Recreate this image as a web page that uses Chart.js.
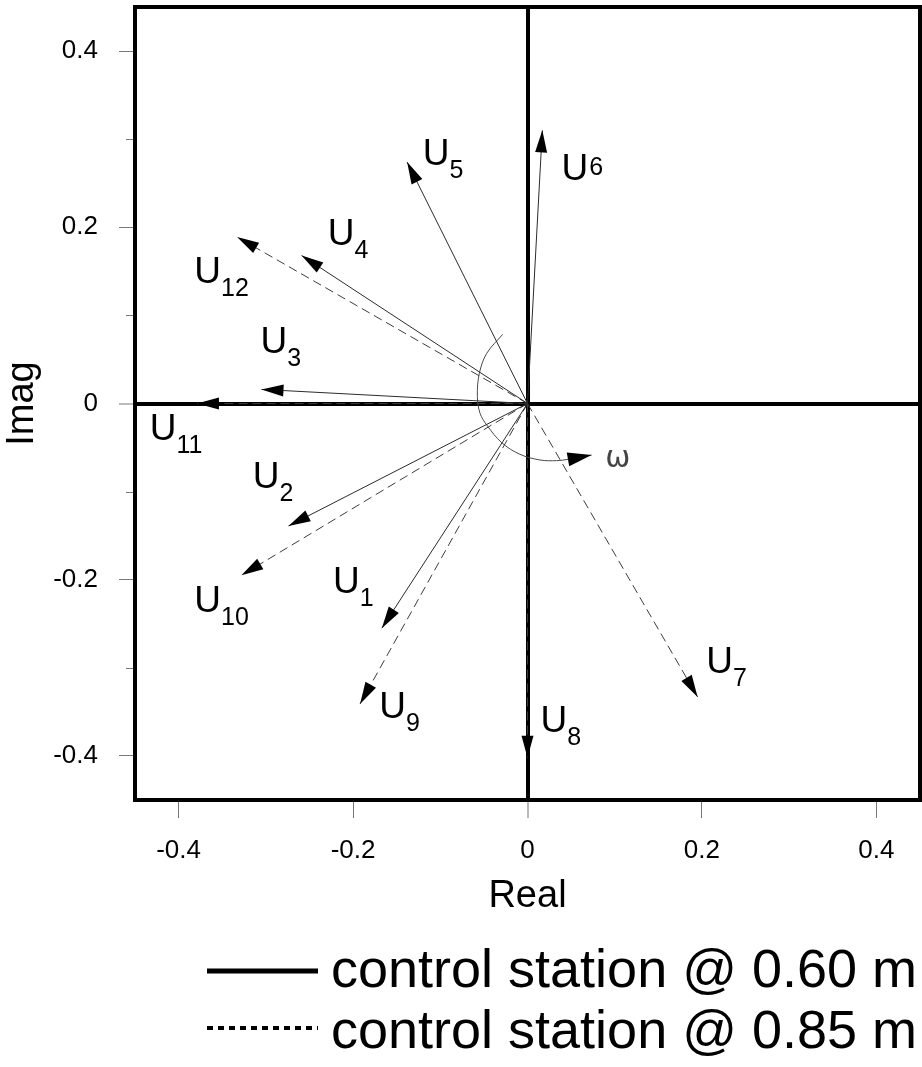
<!DOCTYPE html>
<html>
<head>
<meta charset="utf-8">
<style>
html,body{margin:0;padding:0;background:#fff;}
#wrap{width:922px;height:1067px;position:relative;overflow:hidden;}
canvas{display:block;}
</style>
<script src="https://cdn.jsdelivr.net/npm/chart.js@4.4.1/dist/chart.umd.min.js"></script>
</head>
<body>
<div id="wrap"><canvas id="c" width="922" height="1067"></canvas></div>
<script>
// ---------- data ----------
const vectorNames = ['U1','U2','U3','U4','U5','U6','U7','U8','U9','U10','U11','U12'];
const realParts   = [-0.167,-0.274,-0.305,-0.259,-0.138, 0.017, 0.195, 0.000,-0.192,-0.328,-0.379,-0.333];
const imagParts   = [-0.255,-0.139, 0.016, 0.168, 0.274, 0.310,-0.333,-0.402,-0.341,-0.195, 0.000, 0.189];
const stationDepth = [0.60,0.60,0.60,0.60,0.60,0.60,0.85,0.85,0.85,0.85,0.85,0.85];
const seriesNames = ['control station @ 0.60 m','control station @ 0.85 m'];
const seriesDepths = [0.60, 0.85];
const xTickValues = [-0.4,-0.2,0,0.2,0.4];
const yTickValues = [-0.4,-0.2,0,0.2,0.4];
const yMinorTickValues = [-0.3,-0.1,0.1,0.3];
const axisMin = -0.45, axisMax = 0.45;
// label anchors (data space, text start / baseline)
const labelX = [-0.223,-0.315,-0.306,-0.229,-0.120, 0.039, 0.205, 0.015,-0.170,-0.382,-0.433,-0.382];
const labelY = [-0.215,-0.096, 0.057, 0.180, 0.271, 0.254,-0.306,-0.373,-0.357,-0.237,-0.041, 0.137];
// omega rotation arc (data space)
const omegaArcX = [-0.0284,-0.0467,-0.0552,-0.0575,-0.0544,-0.0467,-0.0295,-0.0086, 0.0143, 0.0334, 0.0467, 0.0735];
const omegaArcY = [ 0.0785, 0.0570, 0.0343, 0.0077,-0.0111,-0.0244,-0.0445,-0.0577,-0.0641,-0.0649,-0.0633,-0.0585];
const omegaLabel = 'ω';
const omegaLabelPos = {x:0.089, y:-0.072};
const xTitle = 'Real', yTitle = 'Imag';

// ---------- chart ----------
const FONT = '"Liberation Sans", Arial, Helvetica, sans-serif';
const isZero = v => Math.abs(v) < 1e-9;

const datasets = vectorNames.map((n,i)=>({
  label:n,
  data:[{x:0,y:0},{x:realParts[i],y:imagParts[i]}],
  showLine:true,
  borderColor: stationDepth[i]===0.60 ? '#2b2b2b' : '#3c3c3c',
  borderWidth:1,
  borderDash: stationDepth[i]===0.60 ? [] : [9,5],
  pointRadius:0, pointHoverRadius:0,
  arrowLen: 22, arrowHalf: 6
}));
datasets.push({
  label:'omega',
  data: omegaArcX.map((x,i)=>({x, y:omegaArcY[i]})),
  showLine:true, borderColor:'#4a4a4a', borderWidth:1, tension:0.35,
  pointRadius:0, pointHoverRadius:0,
  arrowLen: 24, arrowHalf: 7
});

function arrowHead(ctx,x0,y0,x1,y1,len,hw){
  const a=Math.atan2(y1-y0,x1-x0), c=Math.cos(a), s=Math.sin(a);
  ctx.beginPath();
  ctx.moveTo(x1,y1);
  ctx.lineTo(x1-len*c+hw*s, y1-len*s-hw*c);
  ctx.lineTo(x1-len*c-hw*s, y1-len*s+hw*c);
  ctx.closePath();
  ctx.fill();
}

const decorPlugin = {
  id:'decor',
  afterDatasetsDraw(chart){
    const {ctx, chartArea:ca, scales:{x,y}} = chart;
    ctx.save();
    // arrowheads
    ctx.fillStyle='#000';
    chart.data.datasets.forEach((ds,i)=>{
      const pts = chart.getDatasetMeta(i).data;
      const n = pts.length;
      if(n<2) return;
      arrowHead(ctx, pts[n-2].x, pts[n-2].y, pts[n-1].x, pts[n-1].y, ds.arrowLen, ds.arrowHalf);
    });
    // plot frame
    ctx.strokeStyle='#000'; ctx.lineWidth=4;
    ctx.strokeRect(ca.left, ca.top, ca.right-ca.left, ca.bottom-ca.top);
    // minor y ticks
    ctx.strokeStyle='#777'; ctx.lineWidth=1;
    yMinorTickValues.forEach(v=>{
      const py=Math.round(y.getPixelForValue(v))+0.5;
      ctx.beginPath(); ctx.moveTo(ca.left-9,py); ctx.lineTo(ca.left-2,py); ctx.stroke();
    });
    // vector labels
    ctx.fillStyle='#000'; ctx.textBaseline='alphabetic'; ctx.textAlign='left';
    vectorNames.forEach((n,i)=>{
      const px=x.getPixelForValue(labelX[i]), py=y.getPixelForValue(labelY[i]);
      const main=n.charAt(0), sub=n.slice(1);
      ctx.font='37px '+FONT;
      ctx.fillText(main,px,py);
      const w=ctx.measureText(main).width;
      ctx.font='25px '+FONT;
      if(n==='U6'){ ctx.fillText(sub,px+w+1,py-5); }
      else { ctx.fillText(sub,px+w,py+13); }
    });
    // omega label
    ctx.font='30px "DejaVu Sans", '+FONT;
    ctx.fillStyle='#444';
    ctx.fillText(omegaLabel, x.getPixelForValue(omegaLabelPos.x), y.getPixelForValue(omegaLabelPos.y));
    ctx.restore();
  },
  afterDraw(chart){
    const {ctx} = chart;
    ctx.save();
    const rows=[{ly:971, ty:987},{ly:1028, ty:1048}];
    seriesNames.forEach((name,i)=>{
      const r=rows[i];
      ctx.strokeStyle='#000';
      if(seriesDepths[i]===0.60){ ctx.lineWidth=5; ctx.setLineDash([]); }
      else { ctx.lineWidth=4; ctx.setLineDash([6,5]); }
      ctx.beginPath(); ctx.moveTo(207,r.ly); ctx.lineTo(318,r.ly); ctx.stroke();
      ctx.setLineDash([]);
      ctx.fillStyle='#000'; ctx.font='54px '+FONT; ctx.textBaseline='alphabetic'; ctx.textAlign='left';
      ctx.fillText(name, 331, r.ty);
    });
    ctx.restore();
  }
};

const gridCfg = {
  drawOnChartArea:true,
  color: c => (c.tick && isZero(c.tick.value)) ? '#000' : 'rgba(0,0,0,0)',
  lineWidth: c => (c.tick && isZero(c.tick.value)) ? 4 : 1,
  tickColor:'#777', tickWidth:1
};

new Chart(document.getElementById('c'), {
  type:'scatter',
  data:{datasets},
  options:{
    responsive:false, animation:false, devicePixelRatio:1,
    layout:{padding:{left:0, top:7, right:2, bottom:148}},
    plugins:{legend:{display:false}, tooltip:{enabled:false}},
    scales:{
      x:{
        type:'linear', min:axisMin, max:axisMax,
        border:{display:false},
        grid:Object.assign({}, gridCfg, {tickLength:18}),
        afterBuildTicks: s => { s.ticks = xTickValues.map(v=>({value:v})); },
        ticks:{ includeBounds:false, stepSize:0.2, padding:17, maxRotation:0, color:'#000',
          font:{family:FONT, size:26}, callback: v => String(v) },
        title:{display:true, text:xTitle, color:'#000', font:{family:FONT, size:38}, padding:{top:0,bottom:0}},
        afterFit: s => { s.height = 119; s.paddingLeft = 0; s.paddingRight = 0; }
      },
      y:{
        type:'linear', min:axisMin, max:axisMax,
        border:{display:false},
        grid:Object.assign({}, gridCfg, {tickLength:16}),
        afterBuildTicks: s => { s.ticks = yTickValues.map(v=>({value:v})); },
        ticks:{ includeBounds:false, stepSize:0.2, padding:21, color:'#000',
          font:{family:FONT, size:26}, callback: v => String(v) },
        title:{display:true, text:yTitle, color:'#000', font:{family:FONT, size:38}, padding:{top:0,bottom:0}},
        afterFit: s => { s.width = 135; s.paddingTop = 0; s.paddingBottom = 0; }
      }
    }
  },
  plugins:[decorPlugin]
});
</script>
</body>
</html>
